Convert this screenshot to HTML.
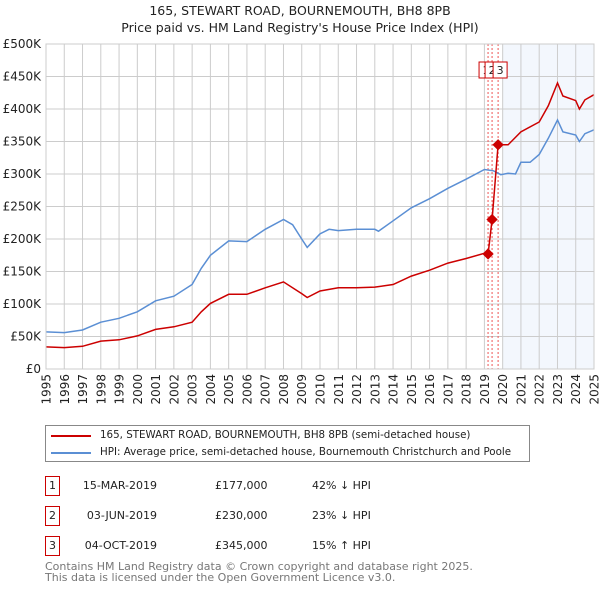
<!DOCTYPE html>
<html><head><meta charset="utf-8"><style>
body{margin:0;background:#fff;font-family:"DejaVu Sans","Liberation Sans",sans-serif;}
#wrap{position:relative;width:600px;height:590px;overflow:hidden;}
.t{position:absolute;font-size:12px;color:#222;white-space:nowrap;}
</style></head><body>
<div id="wrap">
<svg id="chart" width="600" height="420" style="position:absolute;left:0;top:0;font-family:'DejaVu Sans',sans-serif">
<text x="300" y="15" text-anchor="middle" font-size="12.5" fill="#222">165, STEWART ROAD, BOURNEMOUTH, BH8 8PB</text>
<text x="300" y="32" text-anchor="middle" font-size="12.5" fill="#222">Price paid vs. HM Land Registry's House Price Index (HPI)</text>
</svg>
<div style="position:absolute;left:45px;top:425px;width:483px;height:35px;border:1px solid #888;">
 <div style="position:absolute;left:5px;top:9px;width:40px;height:2px;background:#cc0000"></div>
 <div class="t" style="left:54px;top:3px;font-size:10.3px">165, STEWART ROAD, BOURNEMOUTH, BH8 8PB (semi-detached house)</div>
 <div style="position:absolute;left:5px;top:26px;width:40px;height:2px;background:#5b8fd4"></div>
 <div class="t" style="left:54px;top:20px;font-size:10.3px">HPI: Average price, semi-detached house, Bournemouth Christchurch and Poole</div>
</div>
<div id="tbl"></div>
<div class="t" style="left:45px;top:560px;font-size:11px;color:#777">Contains HM Land Registry data © Crown copyright and database right 2025.</div>
<div class="t" style="left:45px;top:571px;font-size:11px;color:#777">This data is licensed under the Open Government Licence v3.0.</div>
</div>
<script>
const hpiYears=[1995,1996,1997,1998,1999,2000,2001,2002,2003,2003.5,2004,2005,2006,2007,2008,2008.5,2009,2009.3,2010,2010.5,2011,2012,2013,2013.2,2014,2015,2016,2017,2018,2019,2019.5,2019.9,2020.3,2020.7,2021,2021.5,2022,2022.5,2023,2023.3,2024,2024.2,2024.5,2025];
const hpiValues=[57,56,60,72,78,88,105,112,130,155,175,197,196,215,230,222,200,187,208,215,213,215,215,212,228,248,262,278,292,307,305,299,301,300,318,318,330,355,383,365,360,350,362,368];
const redYears=[1995,1996,1997,1998,1999,2000,2001,2002,2003,2003.5,2004,2005,2006,2007,2008,2009,2009.3,2010,2011,2012,2013,2014,2015,2016,2017,2018,2019,2019.2,2019.42,2019.75,2020.3,2021,2022,2022.5,2023,2023.3,2024,2024.2,2024.5,2025];
const redValues=[34,33,35,43,45,51,61,65,72,88,101,115,115,125,134,116,110,120,125,125,126,130,143,152,163,170,178,177,230,345,345,365,380,405,440,420,413,400,414,422];
const saleYears=[2019.2,2019.42,2019.75];
const saleValues=[177,230,345];
const saleLabels=["1","2","3"];
const saleDates=["15-MAR-2019","03-JUN-2019","04-OCT-2019"];
const salePrices=["£177,000","£230,000","£345,000"];
const saleHpi=["42% ↓ HPI","23% ↓ HPI","15% ↑ HPI"];
const yTicks=[0,50,100,150,200,250,300,350,400,450,500];
const yTickLabels=["£0","£50K","£100K","£150K","£200K","£250K","£300K","£350K","£400K","£450K","£500K"];
const xTicks=[];for(let y=1995;y<=2025;y++)xTicks.push(y);

const NS="http://www.w3.org/2000/svg",svg=document.getElementById('chart');
const X0=46,X1=594,Y0=369,Y1=44;
const sx=y=>X0+(y-1995)/30*(X1-X0);
const sy=v=>Y0-v/500*(Y0-Y1);
function mk(tag,attrs,parent){const e=document.createElementNS(NS,tag);for(const k in attrs)e.setAttribute(k,attrs[k]);(parent||svg).appendChild(e);return e;}
let r=mk('rect',{x:sx(2020),y:Y1,width:X1-sx(2020),height:Y0-Y1,fill:'#eef3fc',opacity:0.7});


xTicks.forEach(y=>{const l=mk('line',{x1:sx(y),x2:sx(y),y1:Y1,y2:Y0,stroke:'#ccc'});


const t=mk('text',{x:0,y:0,'font-size':12,fill:'#222','text-anchor':'end',transform:`translate(${sx(y)+4.5},${Y0+5}) rotate(-90)`});t.textContent=y;

});
yTicks.forEach((v,i)=>{const l=mk('line',{x1:X0,x2:X1,y1:sy(v),y2:sy(v),stroke:'#ccc'});


const t=mk('text',{x:X0-5,y:sy(v)+4,'font-size':12,fill:'#222','text-anchor':'end'});t.textContent=yTickLabels[i];

});
saleYears.forEach(y=>{const l=mk('line',{x1:sx(y),x2:sx(y),y1:Y1,y2:Y0,stroke:'#e55','stroke-dasharray':'2,2'});

});
const pts=(xs,vs)=>xs.map((y,i)=>sx(y).toFixed(1)+','+sy(vs[i]).toFixed(1)).join(' ');
let h=mk('polyline',{points:pts(hpiYears,hpiValues),fill:'none',stroke:'#5b8fd4','stroke-width':1.5});


let p=mk('polyline',{points:pts(redYears,redValues),fill:'none',stroke:'#cc0000','stroke-width':1.5});


saleYears.forEach((y,i)=>{const d=mk('rect',{x:sx(y)-4,y:sy(saleValues[i])-4,width:8,height:8,fill:'#cc0000',transform:`rotate(45 ${sx(y)} ${sy(saleValues[i])})`});


const b=mk('rect',{x:sx(y)-9+i*2,y:62,width:14,height:16,fill:'#fff',stroke:'#cc0000'});


const t=mk('text',{x:sx(y)-2+i*2,y:74,'font-size':11,fill:'#222','text-anchor':'middle'});t.textContent=saleLabels[i];

});
mk('rect',{x:X0,y:Y1,width:X1-X0,height:Y0-Y1,fill:'none',stroke:'#ccc'});

const tbl=document.getElementById('tbl');
saleLabels.forEach((s,i)=>{const top=476+i*30;
const row=document.createElement('div');row.style.cssText=`position:absolute;left:0;top:${top}px;width:600px;height:20px`;


row.innerHTML=`<div class="t" style="left:45px;top:0;width:13px;height:18px;border:1px solid #cc0000;text-align:center;line-height:18px;font-size:11px">${s}</div>
<div class="t" style="left:60px;width:97px;text-align:right;top:3px;font-size:11px">${saleDates[i]}</div>
<div class="t" style="left:215px;top:3px;font-size:11px">${salePrices[i]}</div>
<div class="t" style="left:312px;top:3px;font-size:11px">${saleHpi[i]}</div>`;
tbl.appendChild(row);});
</script>
</body></html>
